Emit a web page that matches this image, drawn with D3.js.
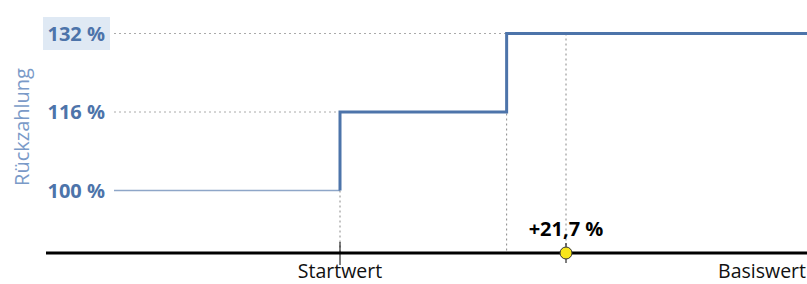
<!DOCTYPE html>
<html><head><meta charset="utf-8">
<script src="https://cdn.jsdelivr.net/npm/d3@7"></script>
<style>body{margin:0;background:#fff}svg{display:block;font-family:"Open Sans",sans-serif}</style>
</head><body><svg id="c" width="807" height="284"></svg>
<script>
// Payoff: x = basis value performance (%), y = repayment (%)
const levels = [100, 116, 132];     // repayment levels
const stepAt = [0, 16];             // performance where the next level starts
const yTicks = [100, 116, 132];
const yTickLabels = ["100 %", "116 %", "132 %"];
const markerX = 21.7;
const markerLabel = "+21,7 %";
const xLabels = ["Startwert", "Basiswert"];
const yTitle = "Rückzahlung";

const svg = d3.select("#c");
const x = d3.scaleLinear().domain([0, 21.7]).range([340, 566]);
const y = d3.scaleLinear().domain([100, 132]).range([190.5, 33.5]);
const xMin = x.invert(114), xMax = x.invert(807), xAxisStart = x.invert(46);
const yBase = y.invert(253);
const blue = "#4d74aa";

// y title
svg.append("text").attr("transform", `translate(29,127) rotate(-90)`)
  .attr("text-anchor", "middle").attr("fill", "#7a9ac8").attr("font-size", 20)
  .text(yTitle);

// highlight box for current level
const cur = yTicks[yTicks.length - 1];
svg.append("rect").attr("x", 43).attr("y", y(cur) - 16.5).attr("width", 67).attr("height", 33)
  .attr("fill", "#dfe9f4");

// y tick labels
svg.selectAll(".yl").data(yTicks).join("text")
  .attr("x", 105).attr("y", d => y(d)).attr("dy", "0.35em")
  .attr("text-anchor", "end").attr("font-weight", 700).attr("font-size", 20)
  .attr("fill", blue).text((d, i) => yTickLabels[i]);

// horizontal dotted guides to step start
svg.selectAll(".hg").data(levels.slice(1)).join("line")
  .attr("x1", 114).attr("x2", (d, i) => x(stepAt[i]))
  .attr("y1", d => y(d)).attr("y2", d => y(d))
  .attr("stroke", "#aaa").attr("stroke-width", 1).attr("stroke-dasharray", "2,3");

// base level thin line
svg.append("line").attr("x1", 114).attr("x2", x(stepAt[0]))
  .attr("y1", y(levels[0])).attr("y2", y(levels[0]))
  .attr("stroke", "#8ea6c8").attr("stroke-width", 1.5);

// vertical dotted lines
const vlines = [
  {v: stepAt[0], top: levels[0]},
  {v: stepAt[1], top: levels[2]},
  {v: markerX, top: levels[2]}
];
svg.selectAll(".vg").data(vlines).join("line")
  .attr("x1", d => x(d.v)).attr("x2", d => x(d.v))
  .attr("y1", d => y(d.top)).attr("y2", y(yBase))
  .attr("stroke", "#888").attr("stroke-width", 1).attr("stroke-dasharray", "2,3");

// step line (thick) from Startwert onward
const pts = [[stepAt[0], levels[0]]];
stepAt.forEach((s, i) => { pts.push([s, levels[i]]); pts.push([s, levels[i + 1]]); });
pts.push([xMax, levels[levels.length - 1]]);
svg.append("path").datum(pts)
  .attr("d", d3.line().x(d => x(d[0])).y(d => y(d[1])))
  .attr("fill", "none").attr("stroke", blue).attr("stroke-width", 3);

// x axis
svg.append("line").attr("x1", x(xAxisStart)).attr("x2", 807)
  .attr("y1", y(yBase)).attr("y2", y(yBase)).attr("stroke", "#000").attr("stroke-width", 3);
svg.append("line").attr("x1", x(0)).attr("x2", x(0))
  .attr("y1", y(yBase) - 11).attr("y2", y(yBase) + 12).attr("stroke", "#000").attr("stroke-width", 1);
svg.append("line").attr("x1", x(markerX)).attr("x2", x(markerX))
  .attr("y1", y(yBase) - 10).attr("y2", y(yBase) + 10).attr("stroke", "#000").attr("stroke-width", 1);

svg.append("text").attr("x", x(0)).attr("y", 278).attr("text-anchor", "middle")
  .attr("font-size", 19.5).attr("fill", "#111").text(xLabels[0]);
svg.append("text").attr("x", 806).attr("y", 278).attr("text-anchor", "end")
  .attr("font-size", 19.5).attr("fill", "#111").text(xLabels[1]);

// marker
svg.append("circle").attr("cx", x(markerX)).attr("cy", y(yBase)).attr("r", 6)
  .attr("fill", "#f7e51b").attr("stroke", "#333").attr("stroke-width", 1);
svg.append("text").attr("x", x(markerX)).attr("y", 236).attr("text-anchor", "middle")
  .attr("font-weight", 700).attr("font-size", 20).attr("fill", "#000").text(markerLabel);
</script></body></html>
